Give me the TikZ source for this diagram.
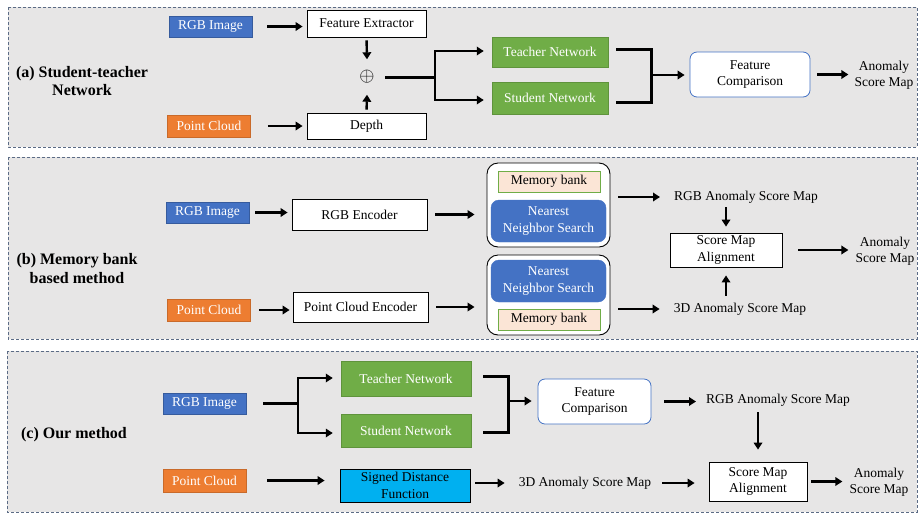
\documentclass[tikz,border=0pt]{standalone}
\usepackage{fontspec}
\setmainfont{Liberation Serif}
\usetikzlibrary{arrows.meta}
\definecolor{panelgray}{HTML}{E7E6E6}
\definecolor{panelline}{HTML}{5B6B85}
\definecolor{rgbblue}{HTML}{4472C4}
\definecolor{pcorange}{HTML}{ED7D31}
\definecolor{netgreen}{HTML}{70AD47}
\definecolor{sdfcyan}{HTML}{00B0F0}
\definecolor{mempeach}{HTML}{FBE5D6}

\tikzset{
  panel/.style={draw=panelline, fill=panelgray, line width=0.8pt, dash pattern=on 3pt off 2pt},
  box/.style={draw=black, fill=white, line width=0.8pt, inner sep=0pt, align=center},
  rgbbox/.style={fill=rgbblue, draw=rgbblue!80!black, line width=0.5pt, text=white, inner sep=0pt,
                 minimum width=83pt, minimum height=21pt},
  pcbox/.style={fill=pcorange, draw=pcorange!85!black, line width=0.5pt, text=white, inner sep=0pt,
                minimum width=83pt, minimum height=22pt},
  netbox/.style={fill=netgreen, draw=netgreen!85!black, line width=0.5pt, text=white, inner sep=0pt},
  cmpbox/.style={draw=rgbblue, fill=white, rounded corners=7pt, line width=0.8pt, align=center, inner sep=0pt},
  holder/.style={draw=black, fill=white, rounded corners=11pt, line width=0.9pt, inner sep=0pt},
  nnsbox/.style={fill=rgbblue, draw=rgbblue, rounded corners=8pt, text=white, align=center, inner sep=0pt,
                 minimum width=115pt, minimum height=42pt},
  membox/.style={fill=mempeach, draw=netgreen, line width=0.8pt, inner sep=0pt,
                 minimum width=102pt, minimum height=21pt},
  lbl/.style={font=\rmfamily\fontsize{16}{18.5}\selectfont\bfseries, align=center, inner sep=0pt},
  txt/.style={inner sep=0pt, align=center},
  arr/.style={line width=2.4pt, line join=miter, -{Triangle[length=7pt,width=8.5pt]}},
  heavyline/.style={line width=3pt, line join=miter},
}

\begin{document}
\begin{tikzpicture}[x=1pt,y=-1pt, font=\rmfamily\fontsize{13.5}{16.5}\selectfont]
\fill[white] (0,0) rectangle (920,515);
\useasboundingbox (0,0) rectangle (920,515);

% ---------- panels ----------
\draw[panel] (8,7) rectangle (917,147);
\draw[panel] (8,157) rectangle (917,339);
\draw[panel] (7,351) rectangle (917,512);

% ---------- (a) student-teacher network ----------
\node[lbl] (labelA) at (82,81) {(a) Student-teacher\\Network};
\node[rgbbox] (rgbA) at (210.5,26.5) {RGB Image};
\node[pcbox] (pcA) at (209,126) {Point Cloud};
\node[box, minimum width=119pt, minimum height=27pt] (featA) at (366.5,23.5) {Feature Extractor};
\node[box, minimum width=119pt, minimum height=26pt] (depthA) at (366.5,126) {Depth};
\node[txt, minimum width=36pt, minimum height=35pt] (oplus) at (367,77) {\scalebox{1.35}{$\oplus$}};
\node[netbox, minimum width=116pt, minimum height=30pt] (teachA) at (550,52) {Teacher Network};
\node[netbox, minimum width=116pt, minimum height=32pt] (studA) at (550,98) {Student Network};
\node[cmpbox, minimum width=120pt, minimum height=45pt] (fcA) at (750,74.5) {Feature\\Comparison};
\node[txt] (asmA) at (884,75) {Anomaly\\Score Map};

\coordinate (jA) at (435,77);
\coordinate (jAt) at (435,51);
\coordinate (jAb) at (435,100);
\coordinate (kAt) at (651,49);
\coordinate (kAb) at (651,102);
\coordinate (kA) at (651,75);

\draw[arr, shorten <=15pt, shorten >=4pt] (rgbA.east) -- (featA.west |- rgbA.east);
\draw[arr, shorten <=17pt, shorten >=4pt] (pcA.east) -- (depthA.west |- pcA.east);
\draw[arr, shorten <=3pt] (featA.south) -- (oplus.north);
\draw[arr, shorten <=3pt] (depthA.north) -- (oplus.south);
\draw[heavyline] (oplus.east) -- (jA);
\draw[arr, shorten >=8pt] (jA) |- (teachA.west |- jAt);
\draw[arr, shorten >=8pt] (jA) |- (studA.west |- jAb);
\draw[heavyline] ([xshift=8pt]teachA.east |- kAt) -- (kAt) -- (kAb) -- ([xshift=8pt]studA.east |- kAb);
\draw[arr, shorten >=5pt] (kA) -- (fcA.west |- kA);
\draw[arr, shorten <=7pt, shorten >=6pt] (fcA.east) -- (asmA.west |- fcA.east);

% ---------- (b) memory bank based method ----------
\node[lbl] (labelB) at (77,268.5) {(b) Memory bank\\based method};
\node[rgbbox] (rgbB) at (207.5,212.5) {RGB Image};
\node[pcbox] (pcB) at (209,310) {Point Cloud};
\node[box, minimum width=135pt, minimum height=31pt] (encB) at (359.5,214.5) {RGB Encoder};
\node[box, minimum width=135pt, minimum height=30pt] (pencB) at (360.5,307) {Point Cloud Encoder};

\node[holder, minimum width=123pt, minimum height=84pt] (contB1) at (548.5,205) {};
\node[membox] (memB1) at (549,181.5) {Memory bank};
\node[nnsbox] (nnsB1) at (548.5,221) {Nearest\\Neighbor Search};
\node[holder, minimum width=123pt, minimum height=80pt] (contB2) at (548.5,295) {};
\node[nnsbox] (nnsB2) at (548.5,281) {Nearest\\Neighbor Search};
\node[membox] (memB2) at (549,319.5) {Memory bank};

\node[txt] (rasB) at (746,197) {RGB Anomaly Score Map};
\node[txt] (dasB) at (740,309) {3D Anomaly Score Map};
\node[box, minimum width=112pt, minimum height=34pt] (smaB) at (726,250) {Score Map\\Alignment};
\node[txt] (asmB) at (885,251) {Anomaly\\Score Map};

\draw[arr, shorten <=6pt, shorten >=4pt] (rgbB.east) -- (encB.west |- rgbB.east);
\draw[arr, shorten <=8pt, shorten >=3pt] (pcB.east) -- (pencB.west |- pcB.east);
\draw[arr, shorten <=8pt, shorten >=12pt] (encB.east) -- (contB1.west |- encB.east);
\draw[arr, shorten <=8pt, shorten >=12pt] (pencB.east) -- (contB2.west |- pencB.east);
\draw[arr, shorten <=8pt, shorten >=14pt] (contB1.east |- rasB.west) -- (rasB.west);
\draw[arr, shorten <=8pt, shorten >=14pt] (contB2.east |- dasB.west) -- (dasB.west);
\draw[arr, shorten <=4pt, shorten >=6pt] (smaB.north |- rasB.south) -- (smaB.north);
\draw[arr, shorten <=7pt, shorten >=8pt] (smaB.south |- dasB.north) -- (smaB.south);
\draw[arr, shorten <=16pt, shorten >=7pt] (smaB.east) -- (asmB.west |- smaB.east);

% ---------- (c) our method ----------
\node[lbl] (labelC) at (74,435) {(c) Our method};
\node[rgbbox] (rgbC) at (204.5,403.5) {RGB Image};
\node[pcbox, minimum height=23pt] (pcC) at (204.5,480.5) {Point Cloud};
\node[netbox, minimum width=130pt, minimum height=35pt] (teachC) at (406,378.5) {Teacher Network};
\node[netbox, minimum width=130pt, minimum height=33pt] (studC) at (406,430.5) {Student Network};
\node[box, fill=sdfcyan, minimum width=130pt, minimum height=33pt]
  (sdfC) at (405,485.5) {Signed Distance\\Function};
\node[cmpbox, minimum width=113pt, minimum height=45pt] (fcC) at (594.5,401.5) {Feature\\Comparison};
\node[txt] (rasC) at (778,400) {RGB Anomaly Score Map};
\node[txt] (dasC) at (585,483) {3D Anomaly Score Map};
\node[box, minimum width=98pt, minimum height=39pt] (smaC) at (758,481.5) {Score Map\\Alignment};
\node[txt] (asmC) at (879,482) {Anomaly\\Score Map};

\coordinate (jC) at (298,403);
\coordinate (jCt) at (298,378);
\coordinate (jCb) at (298,433);
\coordinate (kCt) at (508,376);
\coordinate (kCb) at (508,432);
\coordinate (kC) at (508,401);

\draw[heavyline] ([xshift=17pt]rgbC.east |- jC) -- (jC);
\draw[arr, shorten >=8pt] (jC) |- (teachC.west |- jCt);
\draw[arr, shorten >=8pt] (jC) |- (studC.west |- jCb);
\draw[heavyline] ([xshift=12pt]teachC.east |- kCt) -- (kCt) -- (kCb) -- ([xshift=12pt]studC.east |- kCb);
\draw[arr, shorten >=6pt] (kC) -- (fcC.west |- kC);
\draw[arr, shorten <=13pt, shorten >=10pt] (fcC.east) -- (rasC.west |- fcC.east);
\draw[arr, shorten <=6pt, shorten >=12pt] (smaC.north |- rasC.south) -- (smaC.north);
\draw[arr, shorten <=4pt, shorten >=7pt] (smaC.east) -- (asmC.west |- smaC.east);
\draw[arr, shorten <=21pt, shorten >=15pt] (pcC.east) -- (sdfC.west |- pcC.east);
\draw[arr, shorten <=5pt, shorten >=14pt] (sdfC.east |- dasC.west) -- (dasC.west);
\draw[arr, shorten <=11pt, shorten >=14pt] (dasC.east) -- (smaC.west |- dasC.east);
\end{tikzpicture}
\end{document}
